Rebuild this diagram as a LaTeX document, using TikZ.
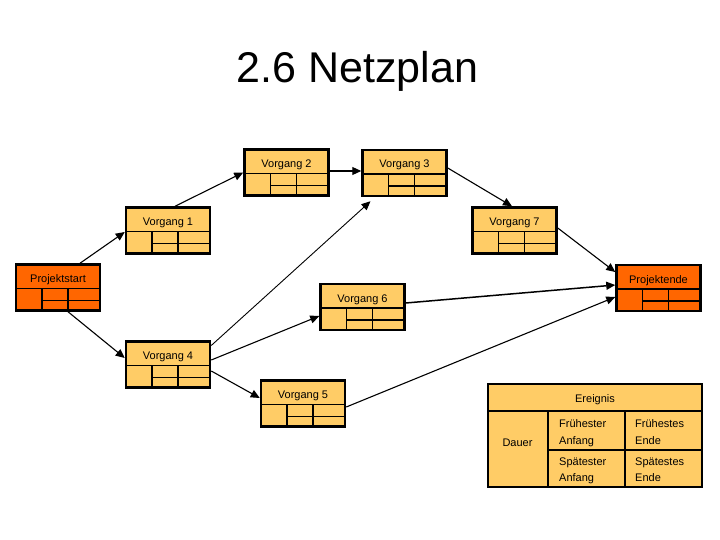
\documentclass[tikz,border=0pt]{standalone}
\usepackage{fontspec}
\setmainfont{Liberation Sans}
\usetikzlibrary{arrows.meta,calc}
\definecolor{lor}{RGB}{255,204,102}
\definecolor{dor}{RGB}{255,102,0}
\tikzset{
  netbox/.style={draw, line width=2.5pt, minimum width=84pt, minimum height=46pt, inner sep=0pt},
  innerl/.style={line width=1.5pt},
  conn/.style={line width=1.1pt, -{Triangle[length=9pt,width=8pt]}},
  lbl/.style={font=\fontsize{11}{13}\selectfont, anchor=base, inner sep=0pt},
  llbl/.style={font=\fontsize{11}{13}\selectfont, anchor=base west, inner sep=0pt},
}
\newcommand\netnode[5]{%
  \node[netbox, fill=#5] (#1) at (#2,#3) {};
  \draw[innerl] ([shift={(-42,1)}]#1.center) -- ([shift={(42,1)}]#1.center);
  \draw[innerl] ([shift={(-16,1)}]#1.center) -- ([shift={(-16,23)}]#1.center);
  \draw[innerl] ([shift={(10,1)}]#1.center) -- ([shift={(10,23)}]#1.center);
  \draw[innerl] ([shift={(-16,13)}]#1.center) -- ([shift={(42,13)}]#1.center);
  \node[lbl] (#1-t) at ([shift={(0,-5)}]#1.center) {#4};
}
\begin{document}
\begin{tikzpicture}[x=1pt,y=-1pt]
\useasboundingbox[fill=white] (0,0) rectangle (720,540);
\node[font=\fontsize{43}{50}\selectfont, anchor=base, inner sep=0pt] (title) at (357.5,83) {2.6 Netzplan};

\netnode{ps}{58}{287.5}{Projektstart}{dor}
\netnode{v1}{168}{230.5}{Vorgang 1}{lor}
\netnode{v2}{286.5}{172.5}{Vorgang 2}{lor}
\netnode{v3}{404.5}{173}{Vorgang 3}{lor}
\netnode{v7}{514.5}{230.5}{Vorgang 7}{lor}
\netnode{pe}{658.5}{288}{Projektende}{dor}
\netnode{v6}{362.5}{307}{Vorgang 6}{lor}
\netnode{v4}{168}{364.5}{Vorgang 4}{lor}
\netnode{v5}{303}{403.5}{Vorgang 5}{lor}

\draw[conn] ([xshift=22pt]ps.north) -- ([yshift=-1.5pt]v1.west);
\draw[conn] ([xshift=7pt]v1.north) -- ([yshift=0pt]v2.west);
\draw[conn] ([yshift=1.5pt]v2.east) -- ([yshift=2pt]v3.west);
\draw[conn] ([yshift=5pt]v3.east) -- ([xshift=-2.5pt]v7.north);
\draw[conn] ([yshift=2.5pt]v7.east) -- ([yshift=16pt]pe.west);
\draw[conn, line width=1.5pt] ([yshift=4pt]v6.east) -- ([yshift=3pt]pe.west);
\draw[conn] ([yshift=-3.5pt]v5.east) -- ([yshift=-9pt]pe.west);
\draw[conn] ([xshift=10pt]ps.south) -- ([yshift=6.5pt]v4.west);
\draw[conn, line width=0.9pt] ([yshift=19pt]v4.east) -- ([xshift=-34pt,yshift=-4pt]v3.south);
\draw[conn] ([yshift=4.5pt]v4.east) -- ([yshift=-9pt]v6.west);
\draw[conn] ([yshift=-6.5pt]v4.east) -- ([yshift=5.5pt]v5.west);

% legend
\node[draw, line width=2.5pt, fill=lor, minimum width=214pt, minimum height=103pt, inner sep=0pt] (leg) at (595,435.5) {};
\draw[innerl] ([shift={(-107,-24.5)}]leg.center) -- ([shift={(107,-24.5)}]leg.center);
\draw[innerl] ([shift={(-47,-24.5)}]leg.center) -- ([shift={(-47,51.5)}]leg.center);
\draw[innerl] ([shift={(30,-24.5)}]leg.center) -- ([shift={(30,51.5)}]leg.center);
\draw[innerl] ([shift={(-47,14.5)}]leg.center) -- ([shift={(107,14.5)}]leg.center);
\node[lbl] (l-ereignis) at (595,402) {Ereignis};
\node[lbl] (l-dauer) at (517.5,446) {Dauer};
\node[llbl] (l-fa1) at (559,427) {Frühester};
\node[llbl] (l-fa2) at (559,444) {Anfang};
\node[llbl] (l-fe1) at (635,427) {Frühestes};
\node[llbl] (l-fe2) at (635,444) {Ende};
\node[llbl] (l-sa1) at (559,465) {Spätester};
\node[llbl] (l-sa2) at (559,481) {Anfang};
\node[llbl] (l-se1) at (635,465) {Spätestes};
\node[llbl] (l-se2) at (635,481) {Ende};
\end{tikzpicture}
\end{document}
